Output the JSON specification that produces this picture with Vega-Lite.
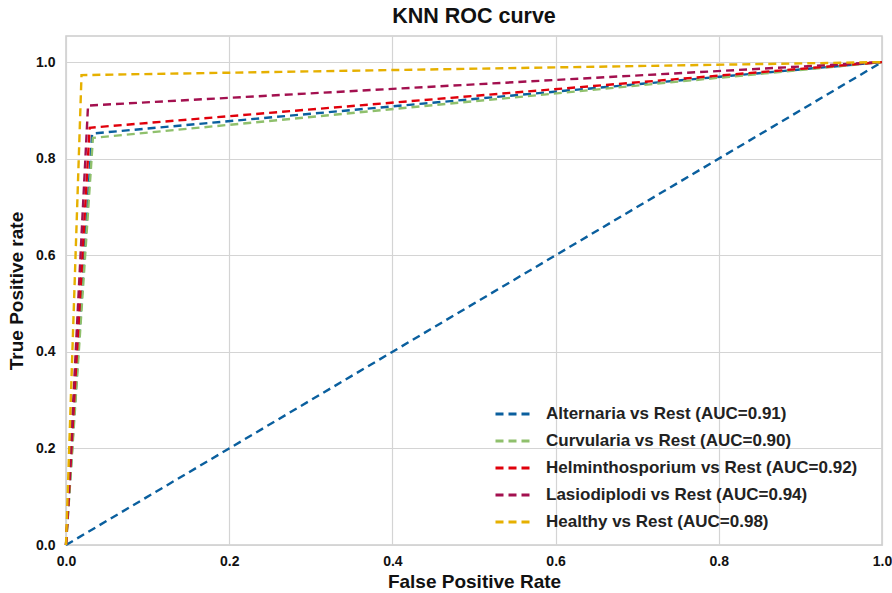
{
  "$schema": "https://vega.github.io/schema/vega-lite/v6.json",
  "width": 816,
  "height": 509,
  "autosize": {"type": "none"},
  "padding": {"left": 66, "top": 36, "right": 10, "bottom": 48},
  "background": "white",
  "title": {"text": "KNN ROC curve", "font": "Liberation Sans", "fontSize": 21.5, "fontWeight": "bold", "color": "#111", "offset": 9, "anchor": "middle"},
  "config": {
    "view": {"stroke": "#cccccc", "strokeWidth": 1.5},
    "axis": {"domain": false, "ticks": false, "gridColor": "#d4d4d4", "gridWidth": 1.2, "labelFont": "Liberation Sans", "labelFontWeight": "bold", "labelFontSize": 14, "labelColor": "#111", "labelFlush": false, "titleFont": "Liberation Sans", "titleFontWeight": "bold", "titleColor": "#111"}
  },
  "datasets": {
    "roc": [
      {"fpr": 0, "tpr": 0, "cls": "Alternaria vs Rest (AUC=0.91)"},
      {"fpr": 0.032, "tpr": 0.852, "cls": "Alternaria vs Rest (AUC=0.91)"},
      {"fpr": 1, "tpr": 1, "cls": "Alternaria vs Rest (AUC=0.91)"},
      {"fpr": 0, "tpr": 0, "cls": "Curvularia vs Rest (AUC=0.90)"},
      {"fpr": 0.033, "tpr": 0.843, "cls": "Curvularia vs Rest (AUC=0.90)"},
      {"fpr": 1, "tpr": 1, "cls": "Curvularia vs Rest (AUC=0.90)"},
      {"fpr": 0, "tpr": 0, "cls": "Helminthosporium vs Rest (AUC=0.92)"},
      {"fpr": 0.029, "tpr": 0.864, "cls": "Helminthosporium vs Rest (AUC=0.92)"},
      {"fpr": 1, "tpr": 1, "cls": "Helminthosporium vs Rest (AUC=0.92)"},
      {"fpr": 0, "tpr": 0, "cls": "Lasiodiplodi vs Rest (AUC=0.94)"},
      {"fpr": 0.027, "tpr": 0.91, "cls": "Lasiodiplodi vs Rest (AUC=0.94)"},
      {"fpr": 1, "tpr": 1, "cls": "Lasiodiplodi vs Rest (AUC=0.94)"},
      {"fpr": 0, "tpr": 0, "cls": "\u00a0Healthy vs Rest (AUC=0.98)"},
      {"fpr": 0.019, "tpr": 0.973, "cls": "\u00a0Healthy vs Rest (AUC=0.98)"},
      {"fpr": 1, "tpr": 1, "cls": "\u00a0Healthy vs Rest (AUC=0.98)"}
    ],
    "diag": [
      {"fpr": 0, "tpr": 0},
      {"fpr": 1, "tpr": 1}
    ]
  },
  "layer": [
    {
      "data": {"name": "diag"},
      "mark": {"type": "line", "stroke": "#0a5f9e", "strokeWidth": 2.4, "strokeDash": [8, 5]},
      "encoding": {
        "x": {"field": "fpr", "type": "quantitative"},
        "y": {"field": "tpr", "type": "quantitative"}
      }
    },
    {
      "data": {"name": "roc"},
      "mark": {"type": "line", "strokeWidth": 2.4, "strokeDash": [8, 5]},
      "encoding": {
        "x": {"field": "fpr", "type": "quantitative", "title": "False Positive Rate", "scale": {"domain": [0, 1], "nice": false, "zero": false}, "axis": {"values": [0, 0.2, 0.4, 0.6, 0.8, 1.0], "format": ".1f", "labelPadding": 9, "titlePadding": 4, "titleFontSize": 19}},
        "y": {"field": "tpr", "type": "quantitative", "title": "True Positive rate", "scale": {"domain": [0, 1.054], "nice": false}, "axis": {"values": [0, 0.2, 0.4, 0.6, 0.8, 1.0], "format": ".1f", "labelPadding": 11, "titlePadding": 9, "titleFontSize": 19}},
        "color": {
          "field": "cls", "type": "nominal",
          "scale": {
            "domain": ["Alternaria vs Rest (AUC=0.91)", "Curvularia vs Rest (AUC=0.90)", "Helminthosporium vs Rest (AUC=0.92)", "Lasiodiplodi vs Rest (AUC=0.94)", "\u00a0Healthy vs Rest (AUC=0.98)"],
            "range": ["#0a5f9e", "#8fc06c", "#e0000b", "#a3104f", "#e6b000"]
          },
          "legend": {
            "title": null, "orient": "none", "legendX": 428, "legendY": 359,
            "symbolType": "stroke", "symbolStrokeWidth": 2.8, "symbolDash": [8, 5], "symbolSize": 1225,
            "labelFont": "Liberation Sans", "labelFontWeight": "bold", "labelFontSize": 17, "labelColor": "#222",
            "rowPadding": -10, "labelOffset": 14, "labelLimit": 400
          }
        },
        "order": {"field": "fpr"}
      }
    }
  ]
}
